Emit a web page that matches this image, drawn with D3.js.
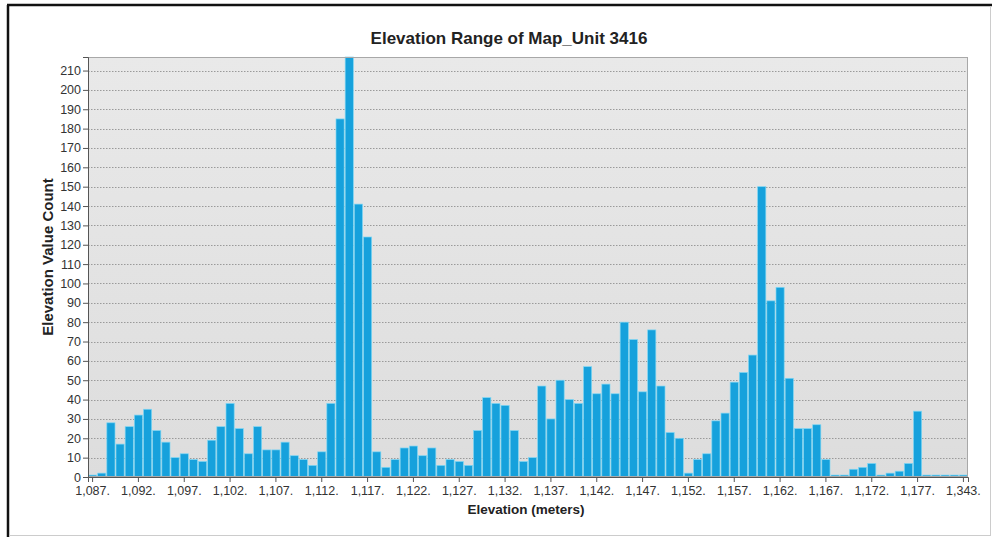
<!DOCTYPE html>
<html>
<head>
<meta charset="utf-8">
<script src="https://cdn.jsdelivr.net/npm/d3@7.9.0/dist/d3.min.js"></script>
<style>
  body { margin: 0; background: #fff; }
  svg { display: block; font-family: "Liberation Sans", Arial, sans-serif; }
</style>
</head>
<body>
<svg id="chart" width="992" height="537"></svg>
<script>
// elevation bins (meters) - the last bin is the 1,343 outlier
const elevations = [
  1087, 1088, 1089, 1090, 1091, 1092, 1093, 1094, 1095, 1096,
  1097, 1098, 1099, 1100, 1101, 1102, 1103, 1104, 1105, 1106,
  1107, 1108, 1109, 1110, 1111, 1112, 1113, 1114, 1115, 1116,
  1117, 1118, 1119, 1120, 1121, 1122, 1123, 1124, 1125, 1126,
  1127, 1128, 1129, 1130, 1131, 1132, 1133, 1134, 1135, 1136,
  1137, 1138, 1139, 1140, 1141, 1142, 1143, 1144, 1145, 1146,
  1147, 1148, 1149, 1150, 1151, 1152, 1153, 1154, 1155, 1156,
  1157, 1158, 1159, 1160, 1161, 1162, 1163, 1164, 1165, 1166,
  1167, 1168, 1169, 1170, 1171, 1172, 1173, 1174, 1175, 1176,
  1177, 1178, 1179, 1180, 1181, 1343
];

const counts = [
  1, 2, 28, 17, 26, 32, 35, 24, 18, 10,
  12, 9, 8, 19, 26, 38, 25, 12, 26, 14,
  14, 18, 11, 9, 6, 13, 38, 185, 217, 141,
  124, 13, 5, 9, 15, 16, 11, 15, 6, 9,
  8, 6, 24, 41, 38, 37, 24, 8, 10, 47,
  30, 50, 40, 38, 57, 43, 48, 43, 80, 71,
  44, 76, 47, 23, 20, 2, 9, 12, 29, 33,
  49, 54, 63, 150, 91, 98, 51, 25, 25, 27,
  9, 1, 1, 4, 5, 7, 1, 2, 3, 7,
  34, 1, 1, 1, 1, 1
];

const tickElevations = [1087, 1092, 1097, 1102, 1107, 1112, 1117, 1122, 1127, 1132,
  1137, 1142, 1147, 1152, 1157, 1162, 1167, 1172, 1177, 1343];
const tickLabels = ["1,087.", "1,092.", "1,097.", "1,102.", "1,107.", "1,112.", "1,117.",
  "1,122.", "1,127.", "1,132.", "1,137.", "1,142.", "1,147.", "1,152.", "1,157.",
  "1,162.", "1,167.", "1,172.", "1,177.", "1,343."];

const yTicks = [0, 10, 20, 30, 40, 50, 60, 70, 80, 90, 100, 110, 120, 130, 140,
  150, 160, 170, 180, 190, 200, 210];

const plotLeft = 88, plotRight = 968, plotTop = 57, plotBottom = 477;

const svg = d3.select('#chart');

// outer frame
svg.append('line').attr('x1', 7).attr('x2', 992).attr('y1', 5).attr('y2', 5)
  .attr('stroke', '#111').attr('stroke-width', 2.5);
svg.append('line').attr('x1', 8).attr('x2', 8).attr('y1', 5).attr('y2', 537)
  .attr('stroke', '#111').attr('stroke-width', 2.5);
svg.append('line').attr('x1', 990.5).attr('x2', 990.5).attr('y1', 6).attr('y2', 535)
  .attr('stroke', '#ccc');
svg.append('line').attr('x1', 9).attr('x2', 991).attr('y1', 535.5).attr('y2', 535.5)
  .attr('stroke', '#ccc');

const grad = svg.append('defs').append('linearGradient')
  .attr('id', 'bg').attr('x1', 0).attr('x2', 0).attr('y1', 0).attr('y2', 1);
grad.append('stop').attr('offset', '0%').attr('stop-color', '#e9e9e9');
grad.append('stop').attr('offset', '100%').attr('stop-color', '#dddddd');

const x = d3.scaleBand().domain(elevations).range([plotLeft, plotRight]).padding(0);
const y = d3.scaleLinear().domain([0, 217]).range([plotBottom, plotTop]);

svg.append('rect')
  .attr('x', plotLeft).attr('y', plotTop)
  .attr('width', plotRight - plotLeft).attr('height', plotBottom - plotTop)
  .attr('fill', 'url(#bg)');

// dotted grid
svg.append('g')
  .selectAll('line')
  .data(yTicks.filter(d => d > 0))
  .join('line')
  .attr('x1', plotLeft).attr('x2', plotRight)
  .attr('y1', d => Math.round(y(d)) + 0.5).attr('y2', d => Math.round(y(d)) + 0.5)
  .attr('stroke', '#9a9a9a')
  .attr('stroke-dasharray', '1.5,1.5');

// bars
svg.append('g')
  .selectAll('rect')
  .data(elevations.map((e, i) => ({ e, v: counts[i] })))
  .join('rect')
  .attr('x', d => x(d.e) + 0.5)
  .attr('width', x.bandwidth() - 1)
  .attr('y', d => y(d.v))
  .attr('height', d => plotBottom - y(d.v))
  .attr('fill', '#16a1dc')
  .attr('stroke', '#7fd6f4')
  .attr('stroke-width', 0.7);

// plot frame
svg.append('rect')
  .attr('x', plotLeft + 0.5).attr('y', plotTop + 0.5)
  .attr('width', plotRight - plotLeft - 1).attr('height', plotBottom - plotTop - 1)
  .attr('fill', 'none').attr('stroke', '#a8a8a8');

// y axis
const yAxis = svg.append('g')
  .attr('transform', `translate(${plotLeft},0)`)
  .call(d3.axisLeft(y).tickValues(yTicks).tickSize(5).tickPadding(2));
yAxis.select('.domain').attr('stroke', '#555');
yAxis.selectAll('.tick line').attr('stroke', '#555');
yAxis.selectAll('.tick text')
  .attr('font-size', 12.5).attr('fill', '#333')
  .attr('font-family', '"Liberation Sans", Arial, sans-serif');

// x axis: only every fifth bin is labelled
const xAxis = svg.append('g')
  .attr('transform', `translate(0,${plotBottom})`)
  .call(d3.axisBottom(x).tickValues(tickElevations)
    .tickFormat((d, i) => tickLabels[i]).tickSize(5).tickPadding(4));
xAxis.select('.domain').attr('stroke', '#555');
xAxis.selectAll('.tick line').attr('stroke', '#555');
xAxis.selectAll('.tick text')
  .attr('font-size', 12.5).attr('fill', '#333')
  .attr('font-family', '"Liberation Sans", Arial, sans-serif');

// titles
svg.append('text')
  .attr('x', 509).attr('y', 44)
  .attr('text-anchor', 'middle')
  .attr('font-size', 17).attr('font-weight', 'bold').attr('fill', '#222')
  .text('Elevation Range of Map_Unit 3416');

svg.append('text')
  .attr('x', 526).attr('y', 514)
  .attr('text-anchor', 'middle')
  .attr('font-size', 13.5).attr('font-weight', 'bold').attr('fill', '#222')
  .text('Elevation (meters)');

svg.append('text')
  .attr('transform', 'translate(53,257) rotate(-90)')
  .attr('text-anchor', 'middle')
  .attr('font-size', 15).attr('font-weight', 'bold').attr('fill', '#222')
  .text('Elevation Value Count');
</script>
</body>
</html>
